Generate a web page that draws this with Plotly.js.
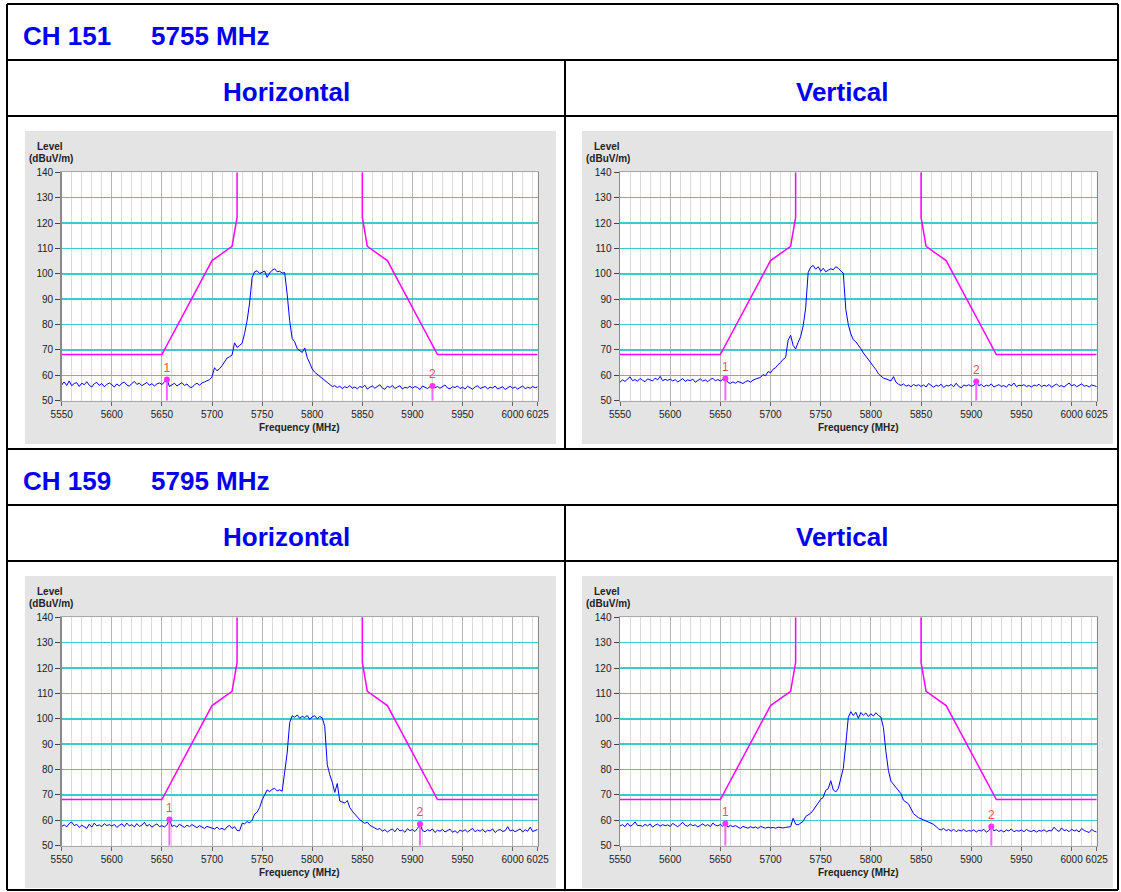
<!DOCTYPE html>
<html>
<head>
<meta charset="utf-8">
<script src="https://cdn.plot.ly/plotly-3.0.1.min.js"></script>
<style>
  html, body { margin: 0; padding: 0; background: #ffffff; }
  #chart { width: 1121px; height: 892px; }
</style>
</head>
<body>
<div id="chart"></div>
<script>
// Sweep settings of the receiver (MHz)
const SWEEP_START = 5550;
const SWEEP_STEP = 2.5;

// Axis ticks
const freqTicks = [5550, 5600, 5650, 5700, 5750, 5800, 5850, 5900, 5950, 6000, 6025];
const levelTicks = [50, 60, 70, 80, 90, 100, 110, 120, 130, 140];

// Emission limit line (dBuV/m)
const maskFreq  = [5550, 5650, 5700, 5720, 5725, 5725, null, 5850, 5850, 5855, 5875, 5925, 6025];
const maskLevel = [68.2, 68.2, 105.2, 110.8, 122.2, 140, null, 140, 122.2, 110.8, 105.2, 68.2, 68.2];

// Measured levels, one value per sweep step
const ch151Horizontal = [
  56.2,57.4,56.0,57.8,55.9,56.8,57.1,55.6,56.9,56.3,57.5,56.1,55.4,56.7,57.2,56.0,56.8,55.5,56.4,57.0,
  56.3,55.4,56.6,55.8,56.9,57.3,56.2,55.7,56.8,57.6,56.4,56.9,55.9,56.5,57.2,56.1,56.7,55.8,56.6,57.0,
  56.4,57.3,58.4,55.6,56.2,56.9,55.8,56.5,57.1,56.0,56.6,55.4,55.2,56.3,56.9,56.1,57.0,57.4,57.8,58.3,
  59.4,63.0,61.8,62.6,63.8,65.5,66.8,67.3,68.0,72.8,71.0,71.8,72.6,76.5,81.5,88.5,98.5,100.8,101.2,100.1,
  100.6,101.1,98.6,100.3,101.4,102.0,100.8,101.0,100.3,100.5,92.0,81.5,74.5,73.2,70.5,69.8,69.0,70.8,67.0,64.8,
  62.5,61.2,60.4,59.6,58.8,58.0,57.2,56.4,55.6,55.9,55.2,55.7,54.8,55.5,55.1,56.0,54.9,55.4,54.7,55.6,
  55.2,56.1,54.6,55.3,55.8,54.9,55.5,56.3,55.0,54.5,55.7,55.2,56.0,54.8,55.4,55.9,54.6,55.3,55.0,55.7,
  54.9,55.6,55.2,54.4,55.8,55.3,54.8,55.5,55.8,55.1,55.6,54.9,55.4,56.2,55.0,54.7,55.5,55.2,55.8,54.8,
  55.3,54.6,55.7,55.0,54.5,55.4,55.9,54.8,55.2,55.6,54.7,55.3,55.0,55.8,54.6,55.1,55.5,54.4,55.2,55.7,
  54.9,55.4,54.6,55.2,55.8,54.7,55.3,54.9,55.6,55.1,
  55.5
];
const ch151Vertical = [
  57.3,58.2,57.6,58.5,59.4,57.9,58.3,57.7,58.8,58.0,57.5,58.6,58.1,57.8,58.9,58.2,59.6,57.9,58.4,58.0,
  58.5,57.8,58.3,57.4,58.0,58.7,57.6,58.2,57.9,58.5,57.3,58.1,58.6,57.7,58.2,57.5,58.4,58.8,57.9,58.3,
  57.8,58.4,58.7,57.2,56.8,57.4,56.9,57.6,57.1,56.8,57.5,57.9,57.3,58.1,58.5,58.9,59.2,60.3,59.8,61.5,
  61.0,62.4,63.0,64.2,65.0,66.3,67.0,73.8,75.8,71.8,70.4,73.0,75.2,79.5,86.5,100.5,102.6,103.3,101.8,102.8,
  101.0,102.2,100.8,101.4,102.0,101.6,102.8,102.2,101.0,100.2,86.0,80.0,76.3,74.0,73.2,72.0,70.5,68.8,67.6,66.0,
  64.9,63.5,62.3,60.6,59.6,58.9,58.6,58.2,57.8,59.5,57.3,56.5,56.0,56.6,55.7,56.2,55.5,56.4,55.8,56.3,
  55.6,56.2,55.4,56.8,55.9,55.3,56.1,55.7,56.5,55.2,56.0,55.8,56.4,55.5,56.9,55.6,55.1,56.2,55.8,56.3,
  55.7,56.0,57.6,55.9,56.4,55.5,56.1,55.8,56.6,55.4,55.9,56.3,55.6,56.0,55.3,56.5,55.8,57.0,55.5,56.1,
  55.9,56.3,55.6,56.0,55.4,56.2,55.8,56.5,55.5,56.1,55.7,56.4,55.3,55.9,56.6,55.6,56.0,55.4,56.2,57.0,
  55.8,56.4,55.5,56.1,56.6,55.7,56.0,55.4,56.2,55.9,
  55.6
];
const ch159Horizontal = [
  57.6,58.2,57.4,58.8,59.3,57.9,58.4,57.2,58.1,57.6,56.8,58.5,57.3,58.9,57.8,58.2,57.5,58.7,57.9,58.3,
  57.7,58.4,57.2,58.0,58.6,57.5,58.9,57.8,58.3,57.4,58.7,57.6,58.1,59.2,57.7,58.4,57.3,58.0,58.6,57.5,
  57.9,57.4,58.2,60.3,57.6,58.0,57.3,58.5,57.8,57.2,58.1,57.5,58.3,57.6,57.1,57.9,57.4,56.8,57.6,57.2,
  57.0,56.6,57.3,56.4,56.9,56.2,57.4,58.0,56.8,57.5,56.0,55.9,58.8,58.6,59.5,59.0,60.0,62.5,63.2,65.0,
  68.0,70.0,72.0,71.3,72.2,72.6,71.6,72.0,71.5,79.0,86.5,98.5,101.2,100.6,101.5,100.2,101.0,100.5,101.3,99.8,
  100.8,101.2,100.0,100.9,100.4,97.0,82.0,78.0,75.0,71.0,74.5,67.6,67.3,66.8,67.8,65.0,63.6,62.2,61.3,60.2,
  59.6,58.8,59.3,58.0,57.5,57.0,56.4,56.8,55.7,56.3,55.4,56.1,56.6,55.5,56.9,55.8,56.2,55.3,56.7,55.9,
  56.4,55.6,56.8,58.6,56.0,55.5,56.3,55.8,56.6,55.2,56.1,55.7,56.4,55.4,56.0,56.5,55.3,55.9,55.0,56.2,
  55.6,56.3,55.4,56.0,56.8,55.5,56.2,55.7,56.5,55.3,56.1,55.8,56.6,55.2,56.0,56.4,55.6,55.9,57.5,55.8,
  56.2,55.5,56.0,56.6,55.4,56.3,55.7,57.3,55.6,56.1,
  56.4
];
const ch159Vertical = [
  57.8,58.3,57.5,58.9,57.7,58.2,59.4,57.9,58.0,57.6,58.4,57.8,58.6,57.3,58.1,58.5,57.7,58.3,57.9,58.2,
  57.6,58.8,58.1,57.5,58.3,59.2,58.0,57.7,58.5,57.9,58.2,57.4,58.0,58.6,57.8,58.3,57.5,58.9,58.1,57.8,
  58.4,57.6,58.7,57.3,58.0,57.5,57.9,57.2,56.8,57.6,57.3,56.9,57.5,57.0,57.4,56.8,57.6,57.1,56.9,57.3,
  57.0,57.2,56.9,57.3,57.1,57.0,57.2,57.4,57.5,60.8,58.5,58.2,59.0,59.6,61.5,62.3,62.8,64.0,65.6,67.0,
  68.3,69.0,71.8,72.5,75.6,72.0,71.2,72.5,76.0,80.5,90.0,100.6,102.8,101.3,102.6,100.2,102.5,101.4,102.3,100.9,
  102.0,101.1,102.4,101.3,100.7,96.5,87.0,79.5,75.4,74.2,73.2,71.6,70.5,67.9,67.2,66.5,64.5,62.6,61.8,61.0,
  60.6,60.2,59.6,59.1,58.8,58.4,57.5,56.6,56.2,56.8,55.9,56.4,55.7,56.5,55.5,56.2,55.8,56.4,55.6,56.0,
  55.7,56.3,55.4,56.1,55.8,56.5,55.3,56.0,57.6,55.9,56.3,55.6,56.1,55.4,56.2,55.8,56.6,55.5,56.0,55.7,
  56.2,55.5,56.4,55.8,55.6,56.1,55.4,56.0,55.7,56.3,55.5,56.0,55.8,57.3,56.2,55.6,57.0,55.9,56.3,55.5,
  56.5,55.8,56.2,55.4,56.8,56.0,55.6,55.2,56.4,55.7,
  55.4
];

// Marker readouts: frequency (MHz) and level (dBuV/m)
const mk151HFreq = [5655, 5920],   mk151HLevel = [58.4, 55.8];
const mk151VFreq = [5655, 5905],   mk151VLevel = [58.7, 57.6];
const mk159HFreq = [5657.5, 5907.5], mk159HLevel = [60.3, 58.6];
const mk159VFreq = [5655, 5920],   mk159VLevel = [58.7, 57.6];
const markerNames = ['1', '2'];

// Section headings
const channelTitles = ['CH 151', 'CH 159'];
const channelFreqs = ['5755 MHz', '5795 MHz'];
const polarTitles = ['Horizontal', 'Vertical'];

// ---- page geometry (pixels) ----
const W = 1121, H = 892;
const px = v => v / W;
const py = v => 1 - v / H;
const FONT = 'Liberation Sans, Arial, Helvetica, sans-serif';
const HEAD_BLUE = '#0000f0';
const HEAD_SIZE = 26;

const panels = [
  { data: ch151Horizontal, mf: mk151HFreq, ml: mk151HLevel, gx: [25, 556],  gy: [131, 444], ax: [61.7, 537.7],  ay: [172.3, 400.7] },
  { data: ch151Vertical,   mf: mk151VFreq, ml: mk151VLevel, gx: [582, 1113], gy: [131, 444], ax: [620, 1096.7],  ay: [172.3, 400.7] },
  { data: ch159Horizontal, mf: mk159HFreq, ml: mk159HLevel, gx: [25, 556],  gy: [576, 888], ax: [61.7, 537.7],  ay: [617.3, 845.7] },
  { data: ch159Vertical,   mf: mk159VFreq, ml: mk159VLevel, gx: [582, 1113], gy: [576, 888], ax: [620, 1096.7],  ay: [617.3, 845.7] }
];

const traces = [];
const shapes = [];
const annotations = [];
const layout = {
  width: W, height: H,
  margin: { l: 0, r: 0, t: 0, b: 0 },
  paper_bgcolor: '#ffffff',
  plot_bgcolor: 'rgba(0,0,0,0)',
  showlegend: false,
  font: { family: FONT, size: 10, color: '#222222' }
};

// table frame
const BLACK = '#000000';
const hLine = (y, x0, x1) => shapes.push({ type: 'line', xref: 'paper', yref: 'paper', x0: px(x0), x1: px(x1), y0: py(y), y1: py(y), line: { color: BLACK, width: 2 }, layer: 'below' });
const vLine = (x, y0, y1) => shapes.push({ type: 'line', xref: 'paper', yref: 'paper', x0: px(x), x1: px(x), y0: py(y0), y1: py(y1), line: { color: BLACK, width: 2 }, layer: 'below' });
[4, 60, 116, 449, 505, 561, 890].forEach(y => hLine(y, 7, 1118));
vLine(7, 4, 890);
vLine(1118, 4, 890);
vLine(565, 60, 449);
vLine(565, 505, 890);

// headings
[0, 1].forEach(s => {
  const yTop = s === 0 ? 36 : 481;
  const yPol = s === 0 ? 92 : 537;
  annotations.push({ xref: 'paper', yref: 'paper', x: px(21), y: py(yTop), xanchor: 'left', yanchor: 'middle', showarrow: false,
    text: '<b>' + channelTitles[s] + '</b>', font: { family: FONT, size: HEAD_SIZE, color: HEAD_BLUE } });
  annotations.push({ xref: 'paper', yref: 'paper', x: px(149), y: py(yTop), xanchor: 'left', yanchor: 'middle', showarrow: false,
    text: '<b>' + channelFreqs[s] + '</b>', font: { family: FONT, size: HEAD_SIZE, color: HEAD_BLUE } });
  annotations.push({ xref: 'paper', yref: 'paper', x: px(286), y: py(yPol), xanchor: 'center', yanchor: 'middle', showarrow: false,
    text: '<b>' + polarTitles[0] + '</b>', font: { family: FONT, size: HEAD_SIZE, color: HEAD_BLUE } });
  annotations.push({ xref: 'paper', yref: 'paper', x: px(843), y: py(yPol), xanchor: 'center', yanchor: 'middle', showarrow: false,
    text: '<b>' + polarTitles[1] + '</b>', font: { family: FONT, size: HEAD_SIZE, color: HEAD_BLUE } });
});

panels.forEach((p, i) => {
  const n = i + 1;
  const xa = n === 1 ? 'x' : 'x' + n;
  const ya = n === 1 ? 'y' : 'y' + n;
  const xKey = n === 1 ? 'xaxis' : 'xaxis' + n;
  const yKey = n === 1 ? 'yaxis' : 'yaxis' + n;

  // grey chart panel and white plotting area
  shapes.push({ type: 'rect', xref: 'paper', yref: 'paper', x0: px(p.gx[0]), x1: px(p.gx[1]), y0: py(p.gy[1]), y1: py(p.gy[0]),
    fillcolor: '#e4e4e4', line: { width: 0 }, layer: 'below' });
  shapes.push({ type: 'rect', xref: 'paper', yref: 'paper', x0: px(p.ax[0]), x1: px(p.ax[1]), y0: py(p.ay[1]), y1: py(p.ay[0]),
    fillcolor: '#ffffff', line: { width: 0 }, layer: 'below' });

  layout[xKey] = {
    domain: [px(p.ax[0]), px(p.ax[1])],
    anchor: ya,
    range: [SWEEP_START, 6025],
    tickmode: 'array', tickvals: freqTicks, ticktext: freqTicks.map(String),
    ticks: 'outside', ticklen: 4, tickcolor: '#666666', tickwidth: 1,
    tickfont: { family: FONT, size: 10, color: '#222222' },
    showgrid: true, gridcolor: '#b5b5b5', gridwidth: 1,
    minor: { tickmode: 'linear', tick0: 5550, dtick: 10, showgrid: true, gridcolor: '#dadada', gridwidth: 1, ticks: '' },
    showline: true, linecolor: '#a9a9a9', linewidth: 1.5, mirror: true,
    zeroline: false, fixedrange: true
  };
  layout[yKey] = {
    domain: [py(p.ay[1]), py(p.ay[0])],
    anchor: xa,
    range: [50, 140],
    tickmode: 'array', tickvals: levelTicks, ticktext: levelTicks.map(String),
    ticks: 'outside', ticklen: 5, tickcolor: '#444444', tickwidth: 1,
    tickfont: { family: FONT, size: 10, color: '#222222' },
    showgrid: true, gridcolor: '#3ccaca', gridwidth: 1.6,
    showline: true, linecolor: '#8a8a8a', linewidth: 1.5, mirror: true,
    zeroline: false, fixedrange: true
  };

  const freq = p.data.map((_, k) => SWEEP_START + k * SWEEP_STEP);

  traces.push({ type: 'scatter', mode: 'lines', x: maskFreq, y: maskLevel, xaxis: xa, yaxis: ya,
    line: { color: '#ff00ff', width: 1.5 }, connectgaps: false, hoverinfo: 'skip' });
  traces.push({ type: 'scatter', mode: 'lines', x: freq, y: p.data, xaxis: xa, yaxis: ya,
    line: { color: '#0000ff', width: 1 }, hoverinfo: 'skip' });

  // marker drop lines
  p.mf.forEach((f, k) => {
    traces.push({ type: 'scatter', mode: 'lines', x: [f, f], y: [50, p.ml[k]], xaxis: xa, yaxis: ya,
      line: { color: '#ff66ff', width: 2 }, hoverinfo: 'skip' });
  });
  traces.push({ type: 'scatter', mode: 'markers+text', x: p.mf, y: p.ml, xaxis: xa, yaxis: ya,
    text: markerNames, textposition: 'top center',
    textfont: { family: FONT, size: 12, color: '#ff4d4d' },
    marker: { color: '#ff33ff', size: 6 }, hoverinfo: 'skip', cliponaxis: false });

  // axis captions
  annotations.push({ xref: 'paper', yref: 'paper', x: px(p.gx[0] + 25), y: py(p.ay[0] - 26), xanchor: 'center', yanchor: 'middle',
    showarrow: false, text: '<b>Level</b>', font: { family: FONT, size: 10, color: '#222222' } });
  annotations.push({ xref: 'paper', yref: 'paper', x: px(p.gx[0] + 26), y: py(p.ay[0] - 14), xanchor: 'center', yanchor: 'middle',
    showarrow: false, text: '<b>(dBuV/m)</b>', font: { family: FONT, size: 10, color: '#222222' } });
  annotations.push({ xref: 'paper', yref: 'paper', x: px((p.ax[0] + p.ax[1]) / 2), y: py(p.ay[1] + 27), xanchor: 'center', yanchor: 'middle',
    showarrow: false, text: '<b>Frequency (MHz)</b>', font: { family: FONT, size: 10, color: '#222222' } });
});

layout.shapes = shapes;
layout.annotations = annotations;

Plotly.newPlot('chart', traces, layout, { staticPlot: true, displayModeBar: false });
</script>
</body>
</html>
